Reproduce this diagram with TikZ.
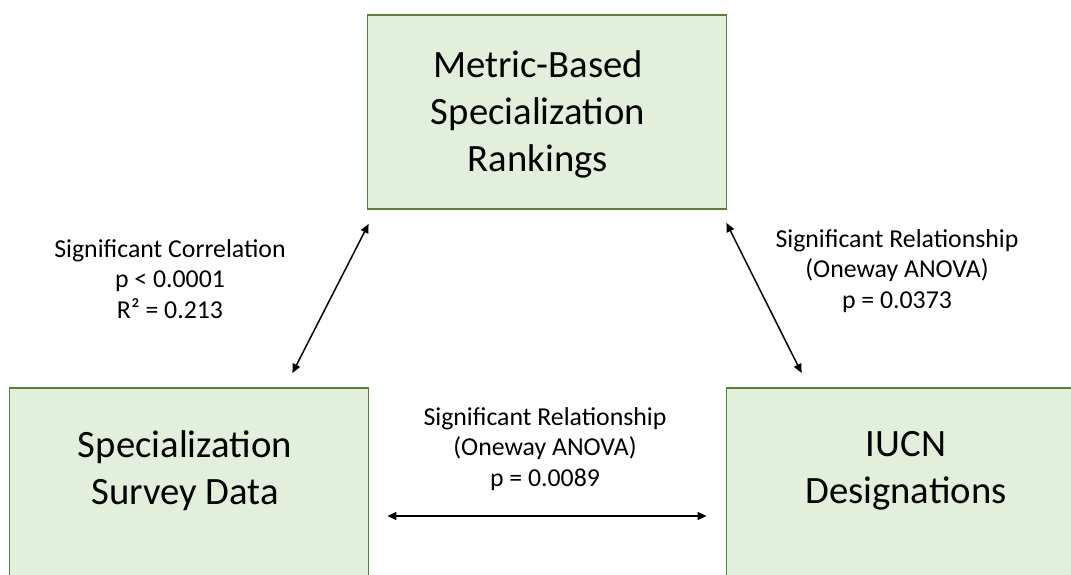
\documentclass[tikz,border=0pt]{standalone}
\usepackage{fontspec}
\setmainfont{Carlito}
\usetikzlibrary{arrows.meta,calc}
\definecolor{boxfill}{HTML}{E2EFDA}
\definecolor{boxline}{HTML}{548235}

\tikzset{
  group/.style={draw=boxline, fill=boxfill, line width=1.8pt,
    minimum width=359pt, minimum height=194pt},
  boxtext/.style={align=center, font=\fontsize{38.7}{47}\selectfont},
  stat/.style={align=center, font=\fontsize{25.8}{30.5}\selectfont},
  link/.style={{Triangle[length=9pt,width=8pt]}-{Triangle[length=9pt,width=8pt]},
    line width=1.5pt}
}

\begin{document}
\begin{tikzpicture}[x=1pt, y=-1pt]
  \clip (0,0) rectangle (1071,575);
  \useasboundingbox (0,0) rectangle (1071,575);

  % the three groups
  \node[group,
    label={[boxtext, xshift=-9pt, yshift=-2pt]center:Metric-Based\\Specialization\\Rankings}]
    (rank) at (547,112) {};
  \node[group, anchor=north,
    label={[boxtext, xshift=-4pt, yshift=14pt]center:Specialization\\Survey Data}]
    (survey) at (189,387) {};
  \node[group, anchor=north,
    label={[boxtext, yshift=14pt]center:IUCN\\Designations}]
    (iucn) at (906,387) {};

  % test results
  \node[stat] (corr) at (170,279) {Significant Correlation\\p < 0.0001\\R² = 0.213};
  \node[stat] (anovaA) at (897,271) {Significant Relationship\\(Oneway ANOVA)\\p = 0.0373};
  \node[stat] (anovaB) at (545,449) {Significant Relationship\\(Oneway ANOVA)\\p = 0.0089};

  % arrow ends
  \coordinate (l1) at ($(survey.north east)+(-77,-14)$);
  \coordinate (l2) at ($(rank.south west)+(2,14)$);
  \coordinate (r1) at ($(rank.south east)+(-1,13)$);
  \coordinate (r2) at ($(iucn.north west)+(76,-14)$);
  \coordinate (b1) at ($(survey.north east)+(18,129)$);
  \coordinate (b2) at ($(iucn.north west)+(-19,129)$);

  \draw[link] (l1) -- (l2);
  \draw[link] (r1) -- (r2);
  \draw[link] (b1) -- (b2);
\end{tikzpicture}
\end{document}
